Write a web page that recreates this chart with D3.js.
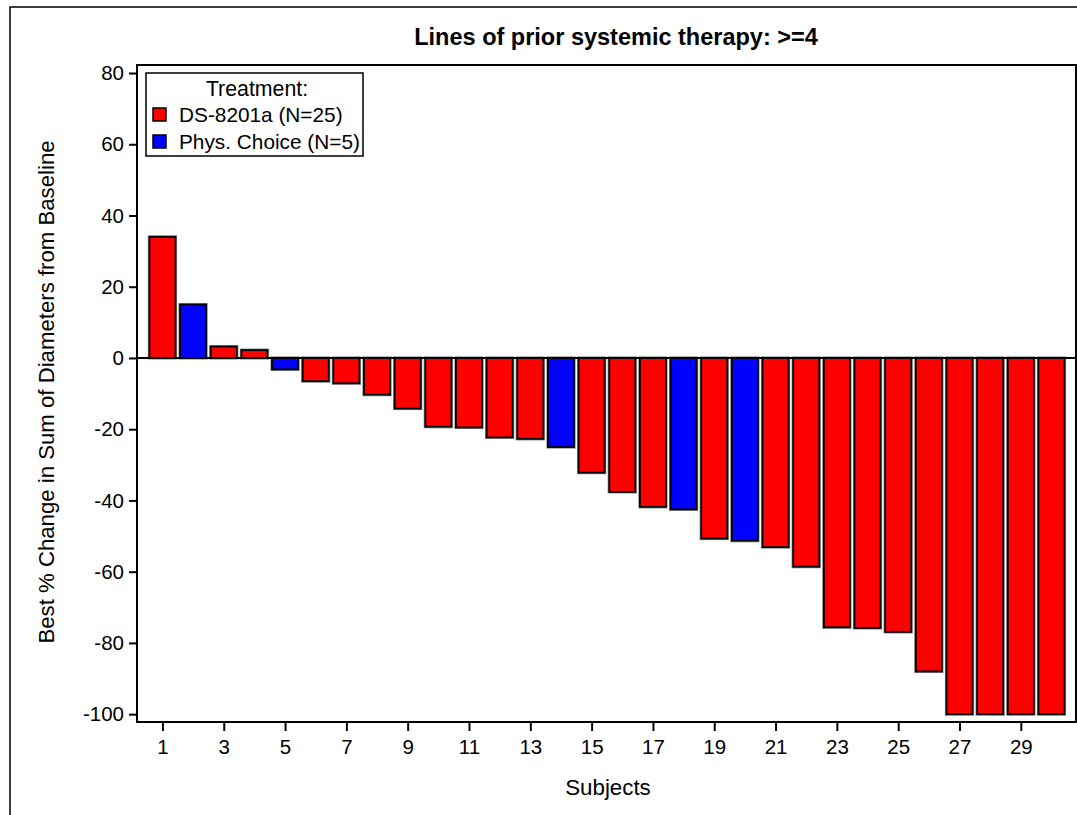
<!DOCTYPE html>
<html>
<head>
<meta charset="utf-8">
<script src="https://cdn.jsdelivr.net/npm/d3@7"></script>
<style>
  html, body { margin: 0; padding: 0; background: #fff; }
  svg { display: block; font-family: "Liberation Sans", Arial, Helvetica, sans-serif; }
</style>
</head>
<body>
<svg id="chart" width="1077" height="815"></svg>
<script>
// ---- data ----
const subjects = d3.range(1, 31);
const values = [34, 15, 3.2, 2.2, -3.2, -6.5, -7.1, -10.3, -14.2, -19.3,
                -19.5, -22.3, -22.7, -25.0, -32.2, -37.6, -41.8, -42.5, -50.7, -51.3,
                -53.1, -58.6, -75.6, -75.8, -76.9, -88.0, -100, -100, -100, -100];
const treatments = ["DS-8201a", "Phys. Choice", "DS-8201a", "DS-8201a", "Phys. Choice",
                    "DS-8201a", "DS-8201a", "DS-8201a", "DS-8201a", "DS-8201a",
                    "DS-8201a", "DS-8201a", "DS-8201a", "Phys. Choice", "DS-8201a",
                    "DS-8201a", "DS-8201a", "Phys. Choice", "DS-8201a", "Phys. Choice",
                    "DS-8201a", "DS-8201a", "DS-8201a", "DS-8201a", "DS-8201a",
                    "DS-8201a", "DS-8201a", "DS-8201a", "DS-8201a", "DS-8201a"];
const legendLabels = ["DS-8201a (N=25)", "Phys. Choice (N=5)"];
const groups = ["DS-8201a", "Phys. Choice"];
const yTicks = [80, 60, 40, 20, 0, -20, -40, -60, -80, -100];
const xTicks = d3.range(1, 30, 2);
const titleText = "Lines of prior systemic therapy: >=4";

// ---- layout ----
const svg = d3.select("#chart");
const L = 137, R = 1076, T = 65, B = 722;
const x = d3.scaleLinear().domain([0.17, 30.8]).range([L, R]);
const y = d3.scaleLinear().domain([-102.2, 82.25]).range([B, T]);
const color = d3.scaleOrdinal().domain(groups).range(["#ff0000", "#0000ff"]);
const barHalf = 0.425;
const fmt = d => String(d); // plain hyphen-minus like the reference

// outer frame
svg.append("path").attr("d", `M10,815 L10,7 L1077,7`)
  .attr("fill", "none").attr("stroke", "#000").attr("stroke-width", 1.5);

// title
svg.append("text").attr("x", 616).attr("y", 45).attr("text-anchor", "middle")
  .attr("font-weight", "bold").attr("font-size", 23.5).text(titleText);

// bars
const data = subjects.map((s, i) => ({ s, v: values[i], t: treatments[i] }));
const bars = svg.append("g");
// soft grey halo under outlines (as in reference)
bars.selectAll("rect.halo").data(data).join("rect").attr("class", "halo")
  .attr("x", d => x(d.s - barHalf))
  .attr("width", d => x(d.s + barHalf) - x(d.s - barHalf))
  .attr("y", d => y(Math.max(0, d.v)))
  .attr("height", d => Math.abs(y(d.v) - y(0)))
  .attr("fill", "none").attr("stroke", "#888").attr("stroke-width", 3.2);
bars.selectAll("rect.bar").data(data).join("rect").attr("class", "bar")
  .attr("x", d => x(d.s - barHalf))
  .attr("width", d => x(d.s + barHalf) - x(d.s - barHalf))
  .attr("y", d => y(Math.max(0, d.v)))
  .attr("height", d => Math.abs(y(d.v) - y(0)))
  .attr("fill", d => color(d.t))
  .attr("stroke", "#000").attr("stroke-width", 1.8);

// zero line
svg.append("line").attr("x1", L).attr("x2", R).attr("y1", y(0)).attr("y2", y(0))
  .attr("stroke", "#000").attr("stroke-width", 2);

// axes
const yAxis = d3.axisLeft(y).tickValues(yTicks).tickSize(8).tickPadding(5).tickFormat(fmt);
const gy = svg.append("g").attr("transform", `translate(${L},0)`).call(yAxis);
gy.select(".domain").remove();
gy.selectAll("line").attr("stroke-width", 2);
gy.selectAll("text").attr("font-size", 20.5).attr("fill", "#000")
  .attr("font-family", "'Liberation Sans', Arial, sans-serif");

const xAxis = d3.axisBottom(x).tickValues(xTicks).tickSize(9).tickPadding(8).tickFormat(fmt);
const gx = svg.append("g").attr("transform", `translate(0,${B})`).call(xAxis);
gx.select(".domain").remove();
gx.selectAll("line").attr("stroke-width", 2);
gx.selectAll("text").attr("font-size", 20.5).attr("fill", "#000")
  .attr("font-family", "'Liberation Sans', Arial, sans-serif");

// plot frame
svg.append("rect").attr("x", L).attr("y", T).attr("width", R - L).attr("height", B - T)
  .attr("fill", "none").attr("stroke", "#000").attr("stroke-width", 2);

// axis titles
svg.append("text").attr("x", 608).attr("y", 795).attr("text-anchor", "middle")
  .attr("font-size", 22.3).text("Subjects");
svg.append("text").attr("transform", `translate(54,392) rotate(-90)`)
  .attr("text-anchor", "middle").attr("font-size", 22.2)
  .text("Best % Change in Sum of Diameters from Baseline");

// legend
const lg = svg.append("g");
lg.append("rect").attr("x", 146).attr("y", 73).attr("width", 217).attr("height", 83)
  .attr("fill", "#fff").attr("stroke", "#000").attr("stroke-width", 1.5);
lg.append("text").attr("x", 257).attr("y", 96).attr("text-anchor", "middle")
  .attr("font-size", 21.3).text("Treatment:");
groups.forEach((g, i) => {
  const yy = 108 + i * 27;
  lg.append("rect").attr("x", 153).attr("y", yy).attr("width", 13).attr("height", 13)
    .attr("fill", color(g)).attr("stroke", "#000").attr("stroke-width", 1.5);
  lg.append("text").attr("x", 179).attr("y", yy + 14).attr("font-size", 20.8).text(legendLabels[i]);
});
</script>
</body>
</html>
